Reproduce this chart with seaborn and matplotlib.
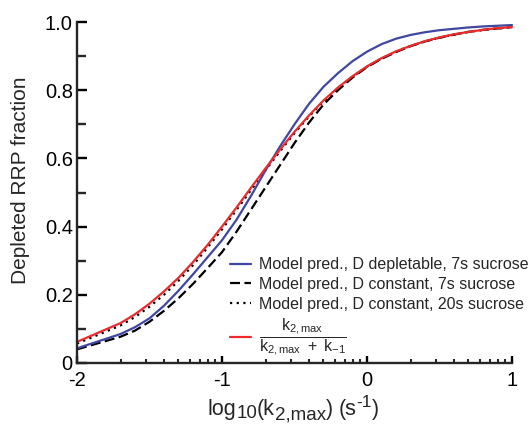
import numpy as np
import pandas as pd
import matplotlib
matplotlib.use("Agg")
import matplotlib.pyplot as plt
import seaborn as sns

# log10(k2,max) grid
log_k = [-2.0, -1.7, -1.6, -1.5, -1.4, -1.3, -1.2, -1.1, -1.0, -0.9, -0.8, -0.7, -0.6,
         -0.5, -0.4, -0.3, -0.2, -0.1, 0.0, 0.1, 0.2, 0.3, 0.4, 0.5, 0.6, 0.7, 0.8, 0.9, 1.0]

blue_depletable_7s = [0.043, 0.085, 0.105, 0.131, 0.168, 0.212, 0.260, 0.310, 0.360, 0.420,
                      0.490, 0.565, 0.635, 0.700, 0.760, 0.810, 0.850, 0.885, 0.913, 0.935,
                      0.951, 0.962, 0.970, 0.976, 0.980, 0.984, 0.987, 0.989, 0.991]
black_constant_7s = [0.040, 0.077, 0.095, 0.121, 0.153, 0.190, 0.232, 0.278, 0.325, 0.385,
                     0.450, 0.515, 0.580, 0.645, 0.705, 0.758, 0.800, 0.837, 0.868, 0.892,
                     0.912, 0.929, 0.943, 0.954, 0.963, 0.971, 0.977, 0.981, 0.985]
black_constant_20s = [0.057, 0.110, 0.135, 0.165, 0.200, 0.241, 0.287, 0.338, 0.392, 0.449,
                      0.507, 0.565, 0.621, 0.674, 0.723, 0.767, 0.806, 0.840, 0.869, 0.893,
                      0.913, 0.930, 0.943, 0.954, 0.963, 0.971, 0.977, 0.981, 0.985]
red_ratio = [0.062, 0.117, 0.143, 0.174, 0.210, 0.250, 0.296, 0.346, 0.400, 0.456,
             0.514, 0.571, 0.626, 0.678, 0.726, 0.770, 0.808, 0.841, 0.870, 0.894,
             0.914, 0.930, 0.944, 0.955, 0.964, 0.971, 0.977, 0.982, 0.985]

labels = [
    "Model pred., D depletable, 7s sucrose",
    "Model pred., D constant, 7s sucrose",
    "Model pred., D constant, 20s sucrose",
    r"$\dfrac{\mathregular{k_{2,max}}}{\mathregular{k_{2,max}\ +\ k_{-1}}}$",
]

x_ticks = [-2, -1, 0, 1]
x_tick_labels = ["-2", "-1", "0", "1"]
y_ticks = [0, 0.2, 0.4, 0.6, 0.8, 1.0]
y_tick_labels = ["0", "0.2", "0.4", "0.6", "0.8", "1.0"]
y_label = "Depleted RRP fraction"
# x label pieces: (text, fontsize, vertical offset in px)
x_label_pieces = [("log", 15.5, 0), ("10", 13.5, -3), ("(k", 15.5, 0), ("2,max", 13.5, -4),
                  (")", 15.5, 0), (None, 0, 0), ("(s", 15.5, 0), ("-1", 12.5, 8), (")", 15.5, 0)]

sns.set_style("ticks")
plt.rcParams["font.family"] = ["Liberation Sans", "DejaVu Sans"]
plt.rcParams["mathtext.fontset"] = "custom"
plt.rcParams["mathtext.rm"] = "Liberation Sans"
plt.rcParams["mathtext.it"] = "Liberation Sans"
plt.rcParams["mathtext.bf"] = "Liberation Sans:bold"
plt.rcParams["axes.unicode_minus"] = False

W, H = 530, 426
fig = plt.figure(figsize=(W / 100, H / 100), dpi=100)
ax = fig.add_axes([77 / W, 1 - 363 / H, (512 - 77) / W, (363 - 22) / H])

blue = "#3f47a0"
red = "#ee2a2d"
lw = 1.6

series = [
    (blue_depletable_7s, blue, None, labels[0]),
    (black_constant_7s, "black", (0, (4.5, 2.0)), labels[1]),
    (black_constant_20s, "black", (0, (1.0, 2.0)), labels[2]),
    (red_ratio, red, None, labels[3]),
]
order = [1, 2, 0, 3]
lines = {}
for i in order:
    vals, col, ls, lab = series[i]
    df = pd.DataFrame({"x": log_k, "y": vals})
    n_before = len(ax.lines)
    sns.lineplot(data=df, x="x", y="y", ax=ax, color=col, linewidth=lw, label=lab,
                 legend=False)
    ln = ax.lines[n_before]
    if ls is not None:
        ln.set_linestyle(ls)
    ln.set_clip_on(False)
    lines[i] = ln

ax.set_xlim(-2, 1)
ax.set_ylim(0, 1)
sns.despine(ax=ax)
for s in ["left", "bottom"]:
    ax.spines[s].set_linewidth(1.7)

ax.set_xticks(x_ticks)
ax.set_xticklabels(x_tick_labels)
minor_x = [np.log10(m) + d for d in (-2, -1, 0) for m in range(2, 10)]
ax.set_xticks(minor_x, minor=True)
ax.set_yticks(y_ticks)
ax.set_yticklabels(y_tick_labels)
ax.set_yticks([0.1, 0.3, 0.5, 0.7, 0.9], minor=True)

ax.tick_params(axis="both", which="major", direction="in", width=1.7,
               labelsize=14.5, color="black", labelcolor="black")
ax.tick_params(axis="y", which="major", length=7, pad=3)
ax.tick_params(axis="x", which="major", length=5, pad=6)
ax.tick_params(axis="y", which="minor", direction="in", length=6.2, width=1.7)
ax.tick_params(axis="x", which="minor", direction="in", length=3, width=1.5)

ax.set_xlabel("")
ax.set_ylabel(y_label, fontsize=15)
ax.yaxis.set_label_coords(-0.107, 0.537)

# composite x label with large sub/superscripts
fig.canvas.draw()
renderer = fig.canvas.get_renderer()
baseline_px = 11  # from bottom
texts = []
x_cursor = 0.0
for txt, size, dy in x_label_pieces:
    if txt is None:
        x_cursor += 5
        continue
    t = fig.text(0, 0, txt, fontsize=size, ha="left", va="baseline", transform=None)
    w = t.get_window_extent(renderer).width
    texts.append((t, x_cursor, dy))
    x_cursor += w
total = x_cursor
start = 293 - total / 2
for t, xo, dy in texts:
    t.set_position((start + xo, baseline_px + dy))

handles = [lines[0], lines[1], lines[2], lines[3]]
leg = ax.legend(handles, labels, loc="upper left", bbox_to_anchor=(0.352, 0.31),
                frameon=False, fontsize=11.5, handlelength=1.3, handletextpad=0.5,
                labelspacing=0.3, borderpad=0.0, borderaxespad=0.0)

fig.savefig("out.png", dpi=100)
